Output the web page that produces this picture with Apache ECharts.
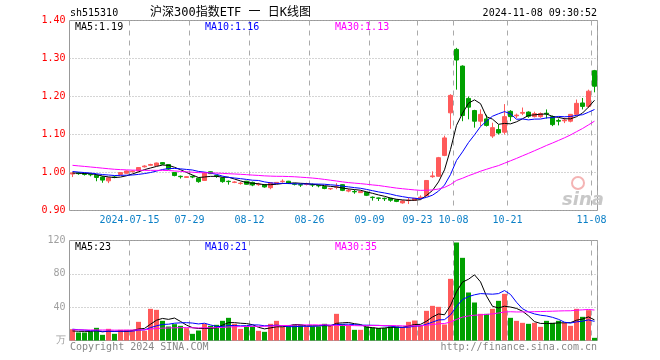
<!DOCTYPE html>
<html><head><meta charset="utf-8">
<script src="https://cdn.jsdelivr.net/npm/echarts@6/dist/echarts.min.js"></script>
<style>html,body{margin:0;padding:0;background:#fff}#c{width:660px;height:360px}</style>
</head><body><div id="c"></div>
<script>
// ---- data ----
const dates = [
 '2024-07-01','2024-07-02','2024-07-03','2024-07-04','2024-07-05','2024-07-08','2024-07-09','2024-07-10','2024-07-11','2024-07-12',
 '2024-07-15','2024-07-16','2024-07-17','2024-07-18','2024-07-19','2024-07-22','2024-07-23','2024-07-24','2024-07-25','2024-07-26',
 '2024-07-29','2024-07-30','2024-07-31','2024-08-01','2024-08-02','2024-08-05','2024-08-06','2024-08-07','2024-08-08','2024-08-09',
 '2024-08-12','2024-08-13','2024-08-14','2024-08-15','2024-08-16','2024-08-19','2024-08-20','2024-08-21','2024-08-22','2024-08-23',
 '2024-08-26','2024-08-27','2024-08-28','2024-08-29','2024-08-30','2024-09-02','2024-09-03','2024-09-04','2024-09-05','2024-09-06',
 '2024-09-09','2024-09-10','2024-09-11','2024-09-12','2024-09-13','2024-09-18','2024-09-19','2024-09-20','2024-09-23','2024-09-24',
 '2024-09-25','2024-09-26','2024-09-27','2024-09-30','2024-10-08','2024-10-09','2024-10-10','2024-10-11','2024-10-14','2024-10-15',
 '2024-10-16','2024-10-17','2024-10-18','2024-10-21','2024-10-22','2024-10-23','2024-10-24','2024-10-25','2024-10-28','2024-10-29',
 '2024-10-30','2024-10-31','2024-11-01','2024-11-04','2024-11-05','2024-11-06','2024-11-07','2024-11-08'];
const tickDates = ['2024-07-15','2024-07-29','2024-08-12','2024-08-26','2024-09-09','2024-09-23','2024-10-08','2024-10-21','2024-11-08'];

const opens = [0.996,0.999,0.997,0.995,0.993,0.988,0.978,0.988,0.995,0.998,
 1.002,1.004,1.015,1.019,1.018,1.026,1.021,1.000,0.990,0.987,
 0.990,0.985,0.979,1.002,0.992,0.986,0.977,0.974,0.971,0.977,
 0.974,0.968,0.968,0.960,0.971,0.976,0.977,0.970,0.968,0.969,
 0.968,0.966,0.963,0.957,0.961,0.968,0.951,0.950,0.947,0.948,
 0.935,0.933,0.932,0.932,0.928,0.920,0.926,0.927,0.933,0.939,
 0.989,0.990,1.045,1.157,1.324,1.280,1.195,1.163,1.135,1.141,
 1.096,1.113,1.106,1.161,1.149,1.156,1.159,1.147,1.147,1.156,
 1.147,1.137,1.136,1.135,1.153,1.183,1.174,1.268];
const closes = [0.999,0.997,0.995,0.994,0.987,0.980,0.986,0.987,1.000,1.004,
 1.004,1.013,1.017,1.021,1.025,1.022,1.009,0.992,0.989,0.989,
 0.988,0.976,0.999,0.997,0.990,0.976,0.976,0.975,0.972,0.969,
 0.967,0.969,0.962,0.973,0.974,0.977,0.971,0.969,0.967,0.970,
 0.967,0.965,0.958,0.958,0.962,0.953,0.953,0.949,0.950,0.940,
 0.934,0.932,0.931,0.927,0.924,0.925,0.927,0.932,0.935,0.979,
 0.991,1.039,1.091,1.203,1.296,1.150,1.172,1.135,1.153,1.124,
 1.118,1.104,1.147,1.147,1.151,1.158,1.148,1.155,1.155,1.154,
 1.126,1.135,1.138,1.153,1.182,1.174,1.214,1.227];
const lows = [0.988,0.994,0.992,0.990,0.977,0.973,0.972,0.985,0.993,0.997,
 1.000,1.003,1.013,1.018,1.017,1.020,1.007,0.990,0.984,0.986,
 0.985,0.973,0.979,0.996,0.986,0.973,0.968,0.972,0.968,0.968,
 0.964,0.965,0.960,0.956,0.970,0.973,0.970,0.966,0.962,0.966,
 0.962,0.961,0.956,0.954,0.956,0.951,0.948,0.944,0.946,0.938,
 0.926,0.925,0.925,0.923,0.922,0.918,0.917,0.926,0.929,0.937,
 0.986,0.989,1.043,1.115,1.218,1.135,1.140,1.118,1.122,1.121,
 1.091,1.100,1.100,1.135,1.143,1.151,1.144,1.145,1.144,1.142,
 1.122,1.124,1.130,1.132,1.150,1.166,1.170,1.211];
const highs = [1.001,1.001,0.999,0.997,0.995,0.990,0.988,0.991,1.001,1.005,
 1.006,1.014,1.019,1.023,1.026,1.027,1.022,1.001,0.992,0.990,
 0.992,0.986,1.000,1.003,0.994,0.987,0.979,0.977,0.975,0.978,
 0.976,0.973,0.969,0.974,0.975,0.982,0.978,0.972,0.970,0.973,
 0.971,0.968,0.964,0.959,0.972,0.969,0.957,0.955,0.952,0.949,
 0.937,0.934,0.934,0.933,0.929,0.927,0.934,0.933,0.940,0.980,
 1.003,1.041,1.097,1.206,1.328,1.282,1.200,1.165,1.166,1.152,
 1.131,1.126,1.180,1.164,1.155,1.171,1.161,1.160,1.158,1.166,
 1.150,1.142,1.144,1.154,1.192,1.196,1.218,1.270];
const volumes = [13.6,9.6,9.6,10.8,15.2,6.8,14,8,12.8,12.8,
 12.8,22.4,11.6,38,36.8,23.6,16.8,19.6,17.6,14.8,
 8,12,20,17.6,18.8,23.6,27.2,20,14,16.8,
 16.8,11.6,10.4,20,23.6,16.8,16.8,18.8,18.8,16.8,
 16.8,16.8,20,17.6,32,19.6,18.8,12.8,12.8,16.8,
 15.6,15,15,16.8,16.8,16,22.4,24,17.6,35.6,
 41.6,40.4,19.2,74,117.6,99.2,57.6,45.6,32,32,
 38,47.6,56,27.2,23.6,21.2,20,21.2,16.4,23.6,
 21.2,23.6,21.2,17.6,38,28.4,36.4,3.2];
// sessions before 2024-07-01 (only feed the moving averages at the left edge)
const priorCloses = [1.042,1.039,1.037,1.033,1.027,1.031,1.030,1.027,1.024,1.022,
 1.027,1.024,1.022,1.025,1.023,1.020,1.024,1.022,1.025,1.018,
 1.012,1.008,1.006,1.007,1.000,0.998,1.001,0.995,1.000];
const priorVolumes = [11,13,12,14,10,12,15,13,11,12,14,12,11,13,12,11,14,13,12,15,16,14,18,15,15,12,10,11,11];
const priceLegend = ['MA5:1.19','MA10:1.16','MA30:1.13'];
const volLegend = ['MA5:23','MA10:21','MA30:35'];
const priceTicks = [0.9,1.0,1.1,1.2,1.3,1.4];
const volTicks = [0,40,80,120];

// ---- helpers ----
function movingAverage(prior, values, n){
  const all = prior.concat(values);
  return values.map((_, i) => {
    const end = prior.length + i; let s = 0;
    for (let k = end - n + 1; k <= end; k++) s += all[k];
    return +(s / n).toFixed(4);
  });
}
const RED = '#ff5a5a', GREEN = '#00a000';
const MONO = '"DejaVu Sans Mono", monospace';
const candles = dates.map((d, i) => [opens[i], closes[i], lows[i], highs[i]]);
const volData = volumes.map((v, i) => ({value: v, itemStyle: {color: closes[i] >= opens[i] ? RED : GREEN}}));
const isTick = (idx) => tickDates.indexOf(dates[idx]) >= 0;
const dashed = {show: true, interval: (idx) => isTick(idx), lineStyle: {color: '#aaa', type: [5, 5], width: 1}};
const dotted = {show: true, lineStyle: {color: '#aaa', type: [1, 2], width: 1}};
const maColors = ['#000000', '#0000ff', '#ff00ff'];
const periods = [5, 10, 30];

const series = [{
  type: 'candlestick', xAxisIndex: 0, yAxisIndex: 0, data: candles, barWidth: 4,
  itemStyle: {color: RED, color0: GREEN, borderColor: RED, borderColor0: GREEN, borderWidth: 1}
}];
periods.forEach((p, k) => series.push({
  type: 'line', xAxisIndex: 0, yAxisIndex: 0, symbol: 'none', silent: true,
  data: movingAverage(priorCloses, closes, p), lineStyle: {color: maColors[k], width: 1}
}));
series.push({type: 'bar', xAxisIndex: 1, yAxisIndex: 1, data: volData, barWidth: 5});
periods.forEach((p, k) => series.push({
  type: 'line', xAxisIndex: 1, yAxisIndex: 1, symbol: 'none', silent: true,
  data: movingAverage(priorVolumes, volumes, p), lineStyle: {color: maColors[k], width: 1}
}));

function txt(x, y, text, fill, size, align, family){
  return {type: 'text', x: x, y: y, z: 100, silent: true,
    style: {text: text, fill: fill, font: (size || 10) + 'px ' + (family || MONO), align: align || 'left', verticalAlign: 'middle'}};
}

const option = {
  animation: false,
  backgroundColor: '#ffffff',
  grid: [
    {left: 69.5, top: 20.5, width: 528, height: 190, show: true, borderColor: '#999', borderWidth: 1, backgroundColor: 'transparent'},
    {left: 69.5, top: 240.5, width: 528, height: 100, show: true, borderColor: '#999', borderWidth: 1, backgroundColor: 'transparent'}
  ],
  xAxis: [
    {type: 'category', gridIndex: 0, data: dates, boundaryGap: true,
      axisLine: {show: false}, axisTick: {show: false},
      axisLabel: {interval: (idx) => isTick(idx), color: '#0a7fc6', fontFamily: MONO, fontSize: 10, margin: 5,
        padding: [0, 6, 0, 0],
        formatter: (v) => v === tickDates[0] ? v : v.slice(5)},
      splitLine: dashed},
    {type: 'category', gridIndex: 1, data: dates, boundaryGap: true,
      axisLine: {show: false}, axisTick: {show: false}, axisLabel: {show: false}, splitLine: dashed}
  ],
  yAxis: [
    {type: 'value', gridIndex: 0, min: priceTicks[0], max: priceTicks[priceTicks.length - 1], interval: 0.1,
      axisLine: {show: false}, axisTick: {show: false}, splitLine: dotted,
      axisLabel: {color: '#ff0000', fontFamily: MONO, fontSize: 10, margin: 4, formatter: (v) => v.toFixed(2)}},
    {type: 'value', gridIndex: 1, min: volTicks[0], max: volTicks[volTicks.length - 1], interval: 40,
      axisLine: {show: false}, axisTick: {show: false}, splitLine: dotted,
      axisLabel: {color: '#a0a0a0', fontFamily: MONO, fontSize: 10, margin: 4, formatter: (v) => v === 0 ? '万' : String(v)}}
  ],
  series: series,
  graphic: [
    txt(70, 13, 'sh515310', '#000', 10),
    txt(150, 13, '沪深300指数ETF 一 日K线图', '#000', 12, 'left', '"DejaVu Sans Mono","Noto Sans CJK SC"'),
    txt(597, 13, '2024-11-08 09:30:52', '#000', 10, 'right'),
    txt(75, 27, priceLegend[0], maColors[0], 10),
    txt(205, 27, priceLegend[1], maColors[1], 10),
    txt(335, 27, priceLegend[2], maColors[2], 10),
    txt(75, 247, volLegend[0], maColors[0], 10),
    txt(205, 247, volLegend[1], maColors[1], 10),
    txt(335, 247, volLegend[2], maColors[2], 10),
    txt(70, 347, 'Copyright 2024 SINA.COM', '#888', 10),
    txt(597, 347, 'http://finance.sina.com.cn', '#888', 10, 'right'),
    {type: 'circle', shape: {cx: 578, cy: 183, r: 6}, z: 1, silent: true, style: {fill: 'none', stroke: '#f4b4b4', lineWidth: 2}},
    {type: 'text', x: 562, y: 200, z: 1, silent: true, style: {text: 'sina', fill: '#c8c8c8', font: 'italic bold 18px "DejaVu Sans"', align: 'left', verticalAlign: 'middle'}}
  ]
};
const chart = echarts.init(document.getElementById('c'));
chart.setOption(option);
</script>
</body></html>
